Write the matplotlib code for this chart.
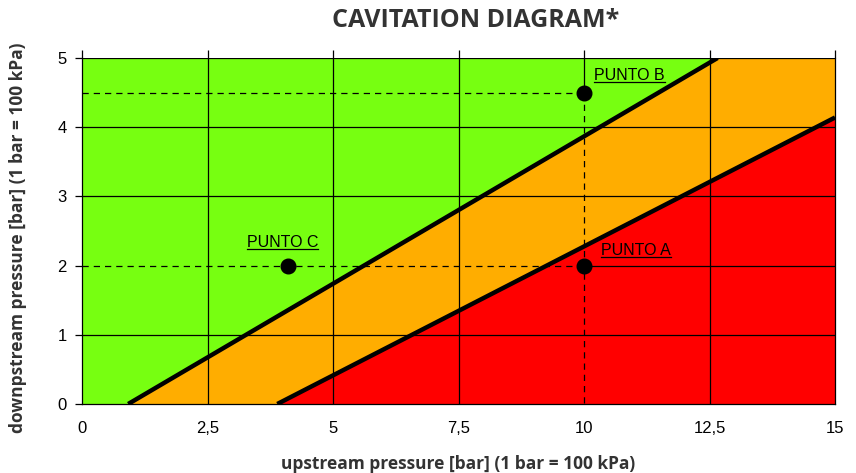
import matplotlib.pyplot as plt
from matplotlib.lines import Line2D
import numpy as np

# limit lines (upstream, downstream) end points
upper_x = [0.92, 12.66]
upper_y = [0.0, 5.0]
lower_x = [3.89, 15.0]
lower_y = [0.0, 4.14]

# operating points
names = ["PUNTO A", "PUNTO B", "PUNTO C"]
pts_x = [10.0, 10.0, 4.1]
pts_y = [2.0, 4.5, 2.0]
lab_x = [10.34, 10.2, 3.28]
lab_y = [2.22, 4.75, 2.34]

xticks = [0, 2.5, 5, 7.5, 10, 12.5, 15]
xticklabels = ["0", "2,5", "5", "7,5", "10", "12,5", "15"]
yticks = [0, 1, 2, 3, 4, 5]

GREEN = "#77FF11"
ORANGE = "#FFAD00"
RED = "#FF0000"
TXT = "#333333"

fig = plt.figure(figsize=(8.56, 4.73), dpi=100)
ax = fig.add_axes([0.0958, 0.1459, 0.8797, 0.7315])
ax.set_xlim(0, 15)
ax.set_ylim(0, 5)

xx = np.linspace(0, 15, 301)
su = (upper_y[1] - upper_y[0]) / (upper_x[1] - upper_x[0])
up = np.clip((xx - upper_x[0]) * su, 0, 5)
sl = (lower_y[1] - lower_y[0]) / (lower_x[1] - lower_x[0])
lo = np.clip((xx - lower_x[0]) * sl, 0, 5)

ax.fill_between(xx, 0, 5, color=GREEN, lw=0, zorder=0)
ax.fill_between(xx, 0, up, color=ORANGE, lw=0, zorder=0.5)
ax.fill_between(xx, 0, lo, color=RED, lw=0, zorder=0.6)

# grid, leaving out the parts replaced by dashed guides
gk = dict(color="black", lw=0.9, zorder=1)
for x in xticks[1:-1]:
    if x == 10:
        ax.plot([x, x], [4.5, 5.0], **gk)
    else:
        ax.plot([x, x], [0, 5], **gk)
for y in yticks[1:]:
    if y == 2:
        ax.plot([10, 15], [y, y], **gk)
    else:
        ax.plot([0, 15], [y, y], **gk)

ax.plot(upper_x, upper_y, color="black", lw=3.2, zorder=3, solid_capstyle="butt")
ax.plot(lower_x, lower_y, color="black", lw=3.2, zorder=3, solid_capstyle="butt")

# dashed guides
dk = dict(color="black", lw=0.9, ls=(0, (5, 4)), zorder=2)
ax.plot([0, pts_x[1]], [pts_y[1], pts_y[1]], **dk)
ax.plot([pts_x[1], pts_x[1]], [pts_y[1], 0], **dk)
ax.plot([0, pts_x[0]], [pts_y[0], pts_y[0]], **dk)

ax.plot(pts_x, pts_y, "o", color="black", ms=10.5, zorder=4)

texts = []
for n, x, y in zip(names, lab_x, lab_y):
    t = ax.text(x, y, n, fontsize=11.5, family="Liberation Sans", color="black",
                ha="left", va="center", zorder=5)
    texts.append(t)

for s in ax.spines.values():
    s.set_color("black")
    s.set_linewidth(0.9)
ax.spines["top"].set_visible(False)

ax.set_xticks(xticks)
ax.set_xticklabels(xticklabels)
ax.set_yticks(yticks)
ax.tick_params(axis="x", bottom=False, top=True, length=6, width=0.9, pad=6,
               labelsize=12, labelbottom=True, labeltop=False)
ax.tick_params(axis="y", left=True, length=5, width=0.9, pad=6, labelsize=12)
for lab in ax.get_xticklabels() + ax.get_yticklabels():
    lab.set_family("Liberation Sans")

ax.set_xlabel("upstream pressure [bar] (1 bar = 100 kPa)", fontsize=12.5,
              family="Open Sans", fontweight="bold", color=TXT, labelpad=14)
ax.set_ylabel("downpstream pressure [bar] (1 bar = 100 kPa)", fontsize=12.5,
              family="Open Sans", fontweight="bold", color=TXT, labelpad=22)
ax.yaxis.label.set_y(0.48)
ax.set_title("CAVITATION DIAGRAM*", fontsize=18, family="Open Sans",
             fontweight="bold", color=TXT, pad=22, x=0.523)

# underline the point labels
fig.canvas.draw()
r = fig.canvas.get_renderer()
for t in texts:
    bb = t.get_window_extent(r)
    ln = Line2D([bb.x0, bb.x1], [bb.y0 + 1, bb.y0 + 1], color="black", lw=0.9,
                transform=None, zorder=5)
    fig.add_artist(ln)

fig.savefig("out.png", dpi=100)
